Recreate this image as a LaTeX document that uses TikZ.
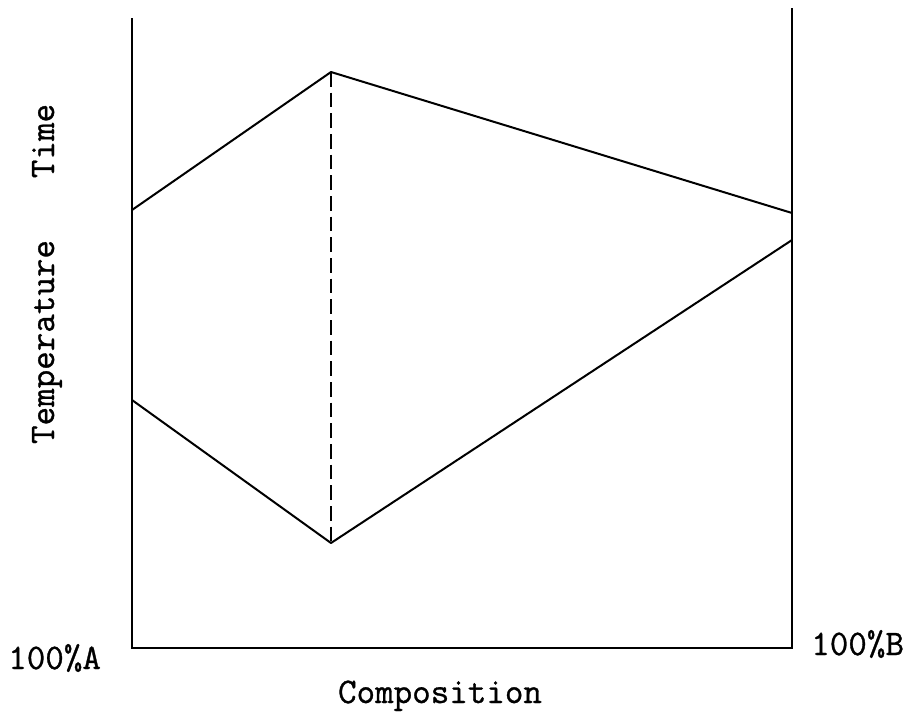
\documentclass[tikz,border=0pt]{standalone}
\usepackage{fontspec}
\setmonofont[FakeBold=0.9]{Latin Modern Mono}
\begin{document}
\begin{tikzpicture}[x=0.75pt,y=-0.75pt,
  axis/.style={line width=2.2pt,line join=miter},
  curve/.style={line width=1.5pt,line join=round},
  tie/.style={line width=1.4pt,dash pattern=on 11pt off 4.5pt},
  lbl/.style={inner sep=0pt,font=\ttfamily\fontsize{27}{32}\selectfont}]
\useasboundingbox (0,0) rectangle (916,715);
\coordinate (LT) at (132,18);
\coordinate (LB) at (132,648);
\coordinate (RB) at (792,648);
\coordinate (RT) at (792,8);
\coordinate (U1) at (132,210);
\coordinate (U2) at (331,72);
\coordinate (U3) at (792,213);
\coordinate (L1) at (132,400);
\coordinate (L2) at (331,543);
\coordinate (L3) at (792,240);
\draw[axis] (LT) -- (LB) -- (RB) -- (RT);
\draw[curve] (U1) -- (U2) -- (U3);
\draw[curve] (L1) -- (L2) -- (L3);
\draw[tie] (U2) -- (L2);
\node[lbl,anchor=base west] (pa) at (8,669) {100\%A};
\node[lbl,anchor=base west] (pb) at (811,655) {100\%B};
\node[lbl,anchor=base] (comp) at (440,703) {Composition};
\node[lbl,anchor=base,rotate=90] (time) at (54,141) {Time};
\node[lbl,anchor=base,rotate=90] (temp) at (54,342) {Temperature};
\end{tikzpicture}
\end{document}
